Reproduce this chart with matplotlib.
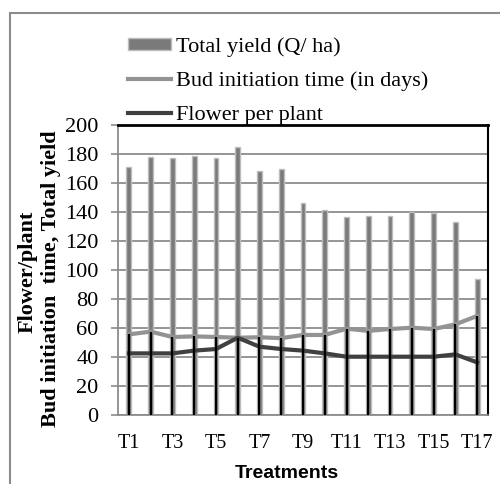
import matplotlib.pyplot as plt
from matplotlib import patches as mpatches
from matplotlib.lines import Line2D
import numpy as np

treatments = ["T%d" % i for i in range(1, 18)]
total_yield = [171, 178, 177.5, 178.5, 177.5, 184.5, 168, 169.5, 146.5, 141.5,
               136.5, 137, 137.5, 140, 139, 133, 94]
bud_time = [55.6, 57.5, 53.8, 54.2, 53.8, 53.3, 53.6, 53.0, 55.2, 55.2,
            59.5, 58.0, 59.3, 60.2, 59.3, 62.5, 68.3]
flower_per_plant = [42.5, 42.5, 42.5, 44.4, 45.5, 53.3, 47.1, 45.5, 44.4, 42.5,
                    40.2, 40.2, 40.2, 40.2, 40.2, 41.8, 36.3]

serif = "Liberation Serif"
dpi = 100
fig = plt.figure(figsize=(500 / dpi, 484 / dpi), dpi=dpi)
ax = fig.add_axes([118 / 500, 1 - 415 / 484, 370 / 500, 290 / 484])

x = np.arange(len(treatments))
ax.bar(x, total_yield, width=0.22, color="#7a7a7a", edgecolor="#bdbdbd",
       linewidth=1.0, zorder=2)
ax.plot(x, bud_time, color="#939393", lw=3.0, zorder=3)
ax.plot(x, flower_per_plant, color="#404040", lw=3.0, zorder=3)
ax.vlines(x, 0, bud_time, color="black", lw=1.6, zorder=4)

ax.set_xlim(-0.5, len(treatments) - 0.5)
ax.set_ylim(0, 200)
ax.set_yticks(range(0, 201, 20))
ax.yaxis.grid(True, color="#8c8c8c", lw=1.3, zorder=0)
ax.set_axisbelow(True)
ax.set_xticks(x)
ax.set_xticklabels([t if i % 2 == 0 else "" for i, t in enumerate(treatments)])
ax.tick_params(axis="x", length=0, pad=14)
ax.tick_params(axis="y", length=5, color="#8c8c8c", width=1.2, pad=9)
for lab in ax.get_xticklabels():
    lab.set_fontfamily(serif)
    lab.set_fontsize(14.5)
for lab in ax.get_yticklabels():
    lab.set_fontfamily(serif)
    lab.set_fontsize(16)

ax.spines["left"].set_color("#8c8c8c")
ax.spines["bottom"].set_color("#8c8c8c")
ax.spines["left"].set_linewidth(1.3)
ax.spines["bottom"].set_linewidth(1.3)
ax.spines["top"].set_color("black")
ax.spines["top"].set_linewidth(2)
ax.spines["right"].set_color("black")
ax.spines["right"].set_linewidth(1.5)

fig.text(28 / 500, 1 - 272 / 484, "Flower/plant", rotation=90, ha="center",
         va="center", fontfamily=serif, fontweight="bold", fontsize=16)
fig.text(51 / 500, 1 - 279 / 484, "Bud initiation  time, Total yield", rotation=90,
         ha="center", va="center", fontfamily=serif, fontweight="bold", fontsize=16)
fig.text(287 / 500, 1 - 474 / 484, "Treatments", ha="center", va="center",
         fontfamily="Liberation Sans", fontweight="bold", fontsize=14)

handles = [mpatches.Patch(facecolor="#7a7a7a", edgecolor="#bdbdbd", lw=1.0),
           Line2D([], [], color="#939393", lw=3.0),
           Line2D([], [], color="#404040", lw=3.0)]
labels = ["Total yield (Q/ ha)", "Bud initiation time (in days)", "Flower per plant"]
fig.legend(handles, labels, loc="upper left", bbox_to_anchor=(128 / 500, 1 - 37 / 484),
           frameon=False, borderpad=0, borderaxespad=0, handlelength=1.95,
           handletextpad=0.22, labelspacing=0.66, handleheight=0.45,
           prop={"family": serif, "size": 16})

border = mpatches.Rectangle((10 / 500, -0.5), 2, 1.5 - 13 / 484, transform=fig.transFigure,
                            fill=False, edgecolor="#8c8c8c", lw=1.5)
fig.patches.append(border)

plt.savefig("out.png", dpi=dpi)
